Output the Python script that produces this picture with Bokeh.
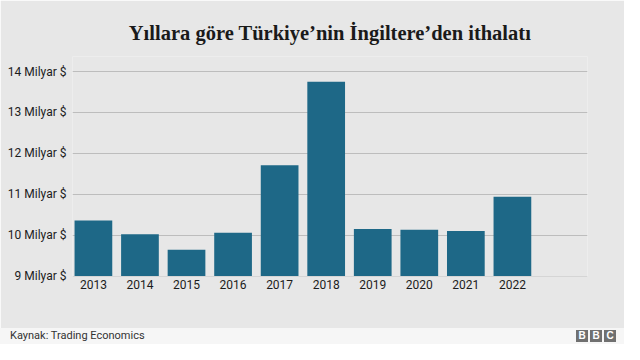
from bokeh.plotting import figure
from bokeh.models import FixedTicker, PrintfTickFormatter, Range1d, ColumnDataSource, Div
from bokeh.layouts import column
from bokeh.embed import file_html
from bokeh.resources import INLINE

# ---- data ----
years = [2013, 2014, 2015, 2016, 2017, 2018, 2019, 2020, 2021, 2022]
imports_bn_usd = [10.36, 10.02, 9.64, 10.06, 11.71, 13.75, 10.15, 10.13, 10.10, 10.94]
y_ticks = [9, 10, 11, 12, 13, 14]
y_tick_format = "%d Milyar $"
title_text = "Yıllara göre Türkiye’nin İngiltere’den ithalatı"
source_text = "Kaynak: Trading Economics"
logo_letters = ["B", "B", "C"]

BG = "#e7e7e7"
FOOT = "#f6f6f6"
BAR = "#1e6887"
TXT = "#1c1c1c"

src = ColumnDataSource(dict(year=years, val=imports_bn_usd))

p = figure(width=624, height=328, output_backend="svg", toolbar_location=None,
           x_range=Range1d(2012.551, 2023.613), y_range=Range1d(8.988, 14.367),
           min_border_left=72, min_border_right=37, min_border_top=56, min_border_bottom=52,
           background_fill_color=BG, border_fill_color=BG, outline_line_color=None)

p.vbar(x="year", top="val", bottom=9, width=0.81, source=src,
       fill_color=BAR, line_color=None)

p.title.text = title_text
p.title.align = "center"
p.title.offset = -17
p.title.standoff = 25
p.title.text_font = "Liberation Serif"
p.title.text_font_size = "20.5px"
p.title.text_font_style = "bold"
p.title.text_color = "#1a1a1a"

p.xaxis.ticker = FixedTicker(ticks=years)
p.yaxis.ticker = FixedTicker(ticks=y_ticks)
p.yaxis.formatter = PrintfTickFormatter(format=y_tick_format)
for ax in (p.xaxis, p.yaxis):
    ax.axis_line_color = None
    ax.major_tick_line_color = None
    ax.minor_tick_line_color = None
    ax.major_tick_out = 0
    ax.major_tick_in = 0
    ax.minor_tick_out = 0
    ax.minor_tick_in = 0
    ax.major_label_text_font = "Roboto"
    ax.major_label_text_font_size = "12px"
    ax.major_label_text_color = TXT
p.xaxis.major_label_standoff = 3
p.yaxis.major_label_standoff = 6

p.xgrid.visible = False
p.ygrid.grid_line_color = "#bdbdbd"
p.ygrid.grid_line_width = 1

# ---- footer ----
logo_html = "".join(
    f'<span style="position:absolute;left:{576 + i * 14}px;top:2px;width:12px;height:12px;'
    f'background:#707070;color:#fff;font:bold 10px \'Liberation Sans\';line-height:12px;'
    f'text-align:center">{ch}</span>'
    for i, ch in enumerate(logo_letters))
footer_html = (
    f'<div style="position:relative;width:624px;height:16px;background:{FOOT};">'
    f'<span style="position:absolute;left:10px;top:1px;font:11px Roboto;line-height:14px;'
    f'color:#333">{source_text}</span>{logo_html}</div>')
footer = Div(text=footer_html, width=624, height=16,
             styles={"background-color": FOOT, "margin": "0", "padding": "0"})

layout = column(p, footer, spacing=0)
open("out.html", "w").write(file_html(layout, INLINE))
